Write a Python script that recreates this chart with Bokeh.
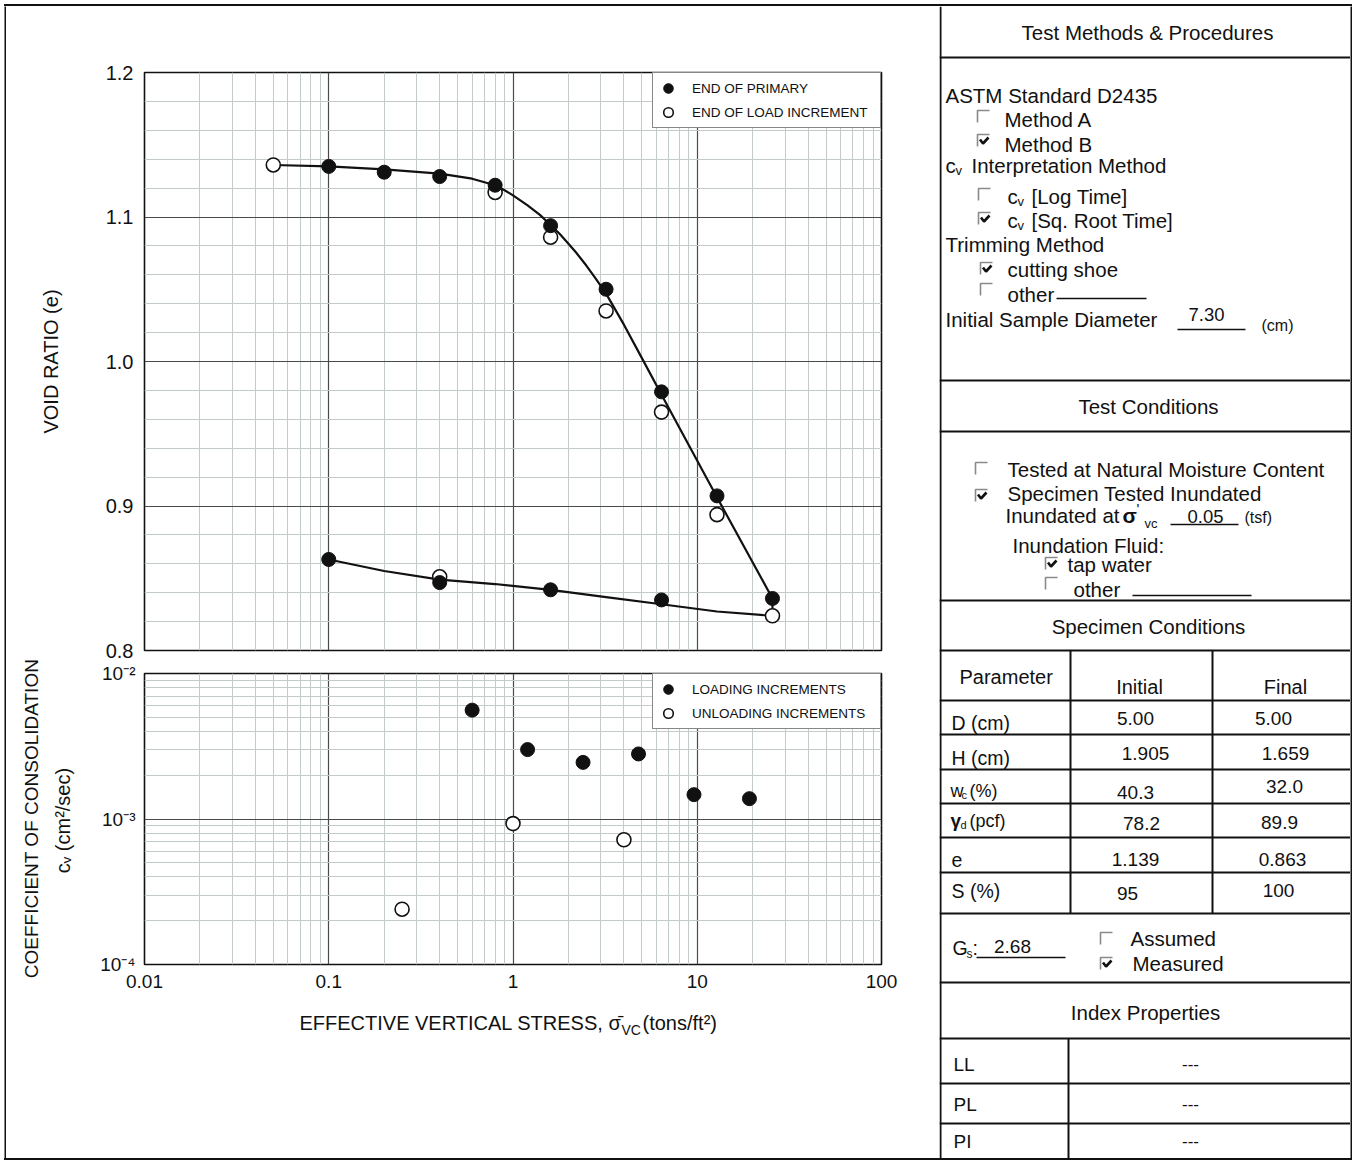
import math
from bokeh.plotting import figure
from bokeh.models import (Range1d, FixedTicker, CustomJSTickFormatter,
                          Legend, LegendItem, ColumnDataSource, Spacer)
from bokeh.layouts import row, column
from bokeh.embed import file_html
from bokeh.resources import INLINE
from bokeh.core.properties import value, field

FONT = "Liberation Sans"
INK = "#111111"
MINOR = "#c3caca"
MAJOR = "#4a4a4a"

# ---------------- data ----------------
# void ratio e versus effective vertical stress (tons/ft^2)
primary_load_stress = [0.1, 0.2, 0.4, 0.8, 1.6, 3.2, 6.4, 12.8, 25.6]
primary_load_e = [1.135, 1.131, 1.128, 1.122, 1.094, 1.050, 0.979, 0.907, 0.836]
primary_unload_stress = [6.4, 1.6, 0.4, 0.1]
primary_unload_e = [0.835, 0.842, 0.847, 0.863]
increment_stress = [0.05, 0.8, 1.6, 3.2, 6.4, 12.8, 25.6, 0.4]
increment_e = [1.136, 1.117, 1.086, 1.035, 0.965, 0.894, 0.824, 0.851]
# hand-drawn fitted curve (loading branch, then unloading branch)
curve_stress = [0.05, 0.1, 0.2, 0.4, 0.6, 0.8, 0.9, 1.0, 1.2, 1.4, 1.6, 1.8, 2.0, 2.2, 2.5,
                2.8, 3.2, 4.0, 5.0, 6.4, 12.8, 25.6,
                25.6, 12.8, 6.4, 3.2, 1.6, 0.8, 0.4, 0.2, 0.1]
curve_e = [1.136, 1.135, 1.133, 1.130, 1.1265, 1.122, 1.1185, 1.115, 1.108, 1.1015, 1.0945,
           1.088, 1.0815, 1.0754, 1.0664, 1.0577, 1.047, 1.0255, 1.0025, 0.977, 0.906, 0.836,
           0.824, 0.827, 0.832, 0.837, 0.842, 0.846, 0.849, 0.855, 0.863]

# coefficient of consolidation cv (cm^2/sec)
cv_load_stress = [0.6, 1.2, 2.4, 4.8, 9.6, 19.2]
cv_load = [5.6e-3, 3.0e-3, 2.45e-3, 2.8e-3, 1.47e-3, 1.38e-3]
cv_unload_stress = [0.25, 1.0, 4.0]
cv_unload = [2.4e-4, 9.3e-4, 7.2e-4]

x_ticks = [0.01, 0.1, 1, 10, 100]
e_ticks = [0.8, 0.9, 1.0, 1.1, 1.2]
cv_ticks = [1e-4, 1e-3, 1e-2]

# specimen table
param_rows = ["D (cm)", "H (cm)", "wc (%)", "γd (pcf)", "e", "S (%)"]
initial_vals = ["5.00", "1.905", "40.3", "78.2", "1.139", "95"]
final_vals = ["5.00", "1.659", "32.0", "89.9", "0.863", "100"]
index_rows = ["LL", "PL", "PI"]
index_vals = ["---", "---", "---"]

# ---------------- tickers / formatters ----------------
x_minor = [k * 10.0 ** d for d in range(-2, 2) for k in range(2, 10)]
cv_minor = [k * 10.0 ** d for d in range(-4, -2) for k in range(2, 10)]
e_minor = [round(0.8 + 0.02 * i, 2) for i in range(21) if i % 5]
x_fmt = CustomJSTickFormatter(code="return String(tick);")
e_fmt = CustomJSTickFormatter(code="return tick.toFixed(1);")
cv_fmt = CustomJSTickFormatter(code="""
const e = Math.round(Math.log10(tick));
const sup = {"-4": "\u207b\u2074", "-3": "\u207b\u00b3", "-2": "\u207b\u00b2"};
return "10" + sup[String(e)];
""")


def style_plot(p):
    p.background_fill_color = "white"
    p.border_fill_color = "white"
    p.outline_line_color = INK
    p.outline_line_width = 1.6
    for ax in p.axis:
        ax.axis_line_color = None
        ax.major_tick_line_color = None
        ax.minor_tick_line_color = None
        ax.major_tick_out = 0
        ax.major_tick_in = 0
        ax.minor_tick_out = 0
        ax.minor_tick_in = 0
        ax.major_label_text_font = FONT
        ax.major_label_text_color = INK
    for g in p.grid:
        g.grid_line_color = MAJOR
        g.grid_line_width = 1.2
        g.minor_grid_line_color = MINOR
        g.minor_grid_line_width = 1


def blank(w, h, xr, yr, fill="white", **kw):
    f = figure(width=w, height=h, x_range=Range1d(*xr), y_range=Range1d(*yr),
               output_backend="svg", toolbar_location=None,
               x_axis_location=None, y_axis_location=None, min_border=0, **kw)
    f.grid.visible = False
    f.background_fill_color = fill
    f.border_fill_color = fill
    f.outline_line_color = None
    return f


def make_legend(items):
    return Legend(items=items, location="top_right", margin=0, padding=3, spacing=0,
                  glyph_width=24, glyph_height=24, label_standoff=12, label_width=185,
                  label_height=20, label_text_font=FONT, label_text_font_size="13.5px",
                  label_text_color=INK, border_line_color=INK, border_line_width=1.5,
                  background_fill_alpha=1)


# page geometry (pixels): outer frame bars 4..6, plots column starts at x=90
B = 2
X0, Y0 = 6, 6
XP, XDIV, XR, YB = 90, 939, 1350, 1158
FRAME_L, FRAME_R = 144, 881

# ---------------- top: void ratio ----------------
top = figure(width=XDIV - XP, height=662 - Y0, x_axis_type="log",
             x_range=Range1d(0.01, 100), y_range=Range1d(0.8, 1.2),
             output_backend="svg", toolbar_location=None,
             min_border_left=FRAME_L - XP, min_border_right=XDIV - FRAME_R,
             min_border_top=72 - Y0, min_border_bottom=662 - 650)
xt_top = FixedTicker(ticks=x_ticks, minor_ticks=x_minor)
top.xaxis.ticker = xt_top
top.xgrid.ticker = xt_top
yt_top = FixedTicker(ticks=e_ticks, minor_ticks=e_minor)
top.yaxis.ticker = yt_top
top.ygrid.ticker = yt_top
top.yaxis.formatter = e_fmt
style_plot(top)
top.xaxis.visible = False
top.yaxis.major_label_text_font_size = "20px"
top.yaxis.major_label_standoff = 11

top.line(curve_stress, curve_e, line_color=INK, line_width=2.2)
r_open = top.scatter(increment_stress, increment_e, marker="circle", size=14,
                     fill_color="white", line_color=INK, line_width=1.6)
r_fill = top.scatter(primary_load_stress + primary_unload_stress,
                     primary_load_e + primary_unload_e, marker="circle", size=14,
                     fill_color=INK, line_color=INK)
top.add_layout(make_legend([LegendItem(label="END OF PRIMARY", renderers=[r_fill]),
                            LegendItem(label="END OF LOAD INCREMENT", renderers=[r_open])]))

# ---------------- bottom: coefficient of consolidation ----------------
bot = figure(width=XDIV - XP, height=1000 - 662, x_axis_type="log", y_axis_type="log",
             x_range=Range1d(0.01, 100), y_range=Range1d(1e-4, 1e-2),
             output_backend="svg", toolbar_location=None,
             min_border_left=FRAME_L - XP, min_border_right=XDIV - FRAME_R,
             min_border_top=673 - 662, min_border_bottom=1000 - 964)
xt_bot = FixedTicker(ticks=x_ticks, minor_ticks=x_minor)
bot.xaxis.ticker = xt_bot
bot.xgrid.ticker = xt_bot
bot.xaxis.formatter = x_fmt
yt_bot = FixedTicker(ticks=cv_ticks, minor_ticks=cv_minor)
bot.yaxis.ticker = yt_bot
bot.ygrid.ticker = yt_bot
bot.yaxis.formatter = cv_fmt
style_plot(bot)
bot.xaxis.major_label_text_font_size = "19px"
bot.xaxis.major_label_standoff = 10
bot.yaxis.major_label_text_font_size = "19px"
bot.yaxis.major_label_standoff = 9

r_cvl = bot.scatter(cv_load_stress, cv_load, marker="circle", size=14,
                    fill_color=INK, line_color=INK)
r_cvu = bot.scatter(cv_unload_stress, cv_unload, marker="circle", size=14,
                    fill_color="white", line_color=INK, line_width=1.6)
bot.add_layout(make_legend([LegendItem(label="LOADING INCREMENTS", renderers=[r_cvl]),
                            LegendItem(label="UNLOADING INCREMENTS", renderers=[r_cvu])]))

# ---------------- axis titles (separate strips, page-pixel coordinates) ----------------
strip = blank(XP - X0, YB - Y0, (X0, XP), (YB, Y0))
strip_src = ColumnDataSource(dict(
    x=[50, 31, 62], y=[361, 818, 820],
    text=["VOID RATIO (e)", "COEFFICIENT OF CONSOLIDATION", "c\u1d65 (cm\u00b2/sec)"],
    fs=["20px", "19px", "20px"]))
strip.text(x="x", y="y", text="text", source=strip_src, angle=math.pi / 2,
           text_align="center", text_baseline="middle", text_font=value(FONT),
           text_font_size=field("fs"), text_color=INK)

# caption frame aligned with the plot frames above it (page x 144..881)
caption = blank(XDIV - XP, YB - 1000, (FRAME_L, FRAME_R), (YB, 1000))
caption.min_border_left = FRAME_L - XP
caption.min_border_right = XDIV - FRAME_R
cap_src = ColumnDataSource(dict(
    x=[621, 621, 642], y=[1022, 1029, 1022],
    text=["EFFECTIVE VERTICAL STRESS, \u03c3\u0304", "VC", "(tons/ft\u00b2)"],
    fs=["20px", "14px", "20px"],
    al=["right", "left", "left"]))
caption.text(x="x", y="y", text="text", source=cap_src, text_align=field("al"),
             text_baseline="middle", text_font=value(FONT), text_font_size=field("fs"),
             text_color=INK)

# ---------------- right panel: test information ----------------
panel = blank(XR - XDIV, YB - Y0, (XDIV, XR), (YB, Y0))

T = dict(x=[], y=[], text=[], size=[], align=[], style=[])


def put(x, y, s, size=20.5, align="left", style="normal"):
    T["x"].append(x)
    T["y"].append(y)
    T["text"].append(s)
    T["size"].append(f"{size}px")
    T["align"].append(align)
    T["style"].append(style)


# section headers
put(1147, 32, "Test Methods & Procedures", align="center")
put(1148, 406, "Test Conditions", align="center")
put(1148, 626, "Specimen Conditions", align="center")
put(1145, 1012, "Index Properties", align="center")

# test methods
put(945, 95, "ASTM Standard D2435")
put(1004, 119, "Method A")
put(1004, 144, "Method B")
put(945, 165, "c")
put(955, 170, "v", 13)
put(971, 165, "Interpretation Method")
put(1007, 196, "c")
put(1017, 201, "v", 13)
put(1031, 196, "[Log Time]")
put(1007, 220, "c")
put(1017, 225, "v", 13)
put(1031, 220, "[Sq. Root Time]")
put(945, 244, "Trimming Method")
put(1007, 269, "cutting shoe")
put(1007, 294, "other")
put(945, 319, "Initial Sample Diameter")
put(1206, 314, "7.30", 18.5, align="center")
put(1261, 325, "(cm)", 16)

# test conditions
put(1007, 469, "Tested at Natural Moisture Content")
put(1007, 493, "Specimen Tested Inundated")
put(1005, 515, "Inundated at")
put(1122, 515, "\u03c3", 21, style="bold")
put(1136, 508, "'", 15)
put(1144, 523, "vc", 13)
put(1205, 516, "0.05", 18.5, align="center")
put(1244, 517, "(tsf)", 16)
put(1012, 545, "Inundation Fluid:")
put(1067, 564, "tap water")
put(1073, 589, "other")

# specimen table
put(959, 676, "Parameter", 20)
put(1139, 686, "Initial", 20, align="center")
put(1285, 686, "Final", 20, align="center")
row_y = [722, 757, 790, 820, 859, 890]
init_pos = [(1135, 718), (1145, 753), (1135, 792), (1141, 823), (1135, 859), (1127, 893)]
final_pos = [(1273, 718), (1285, 753), (1284, 786), (1279, 822), (1282, 859), (1278, 890)]
for i, name in enumerate(param_rows):
    y = row_y[i]
    if name.startswith("wc"):
        put(950, y, "w", 18)
        put(961, y + 4, "c", 11)
        put(969, y, "(%)", 18)
    elif name.startswith("γd"):
        put(950, y, "\u03b3", 19, style="bold")
        put(960, y + 4, "d", 11)
        put(969, y, "(pcf)", 18)
    else:
        put(951, y, name, 19.5)
    put(init_pos[i][0], init_pos[i][1], initial_vals[i], 19, align="center")
    put(final_pos[i][0], final_pos[i][1], final_vals[i], 19, align="center")

# specific gravity
put(952, 947, "G", 19.5)
put(966, 953, "s", 12)
put(972, 947, ":", 19.5)
put(1012, 946, "2.68", 19, align="center")
put(1130, 938, "Assumed")
put(1132, 963, "Measured")

# index properties
for name, v, y in zip(index_rows, index_vals, [1064, 1104, 1141]):
    put(953, y, name, 19)
    put(1190, y - 1, v, 17, align="center")

panel.text(x="x", y="y", text="text", source=ColumnDataSource(T),
           text_font=value(FONT), text_font_size=field("size"), text_align=field("align"),
           text_font_style=field("style"), text_baseline="middle", text_color=INK)

# ruling lines
h_lines = [57, 380, 431, 600, 650, 700, 734, 769, 803, 837, 872, 913, 982, 1038, 1083, 1123]
panel.segment(x0=[XDIV] * len(h_lines), x1=[XR] * len(h_lines), y0=h_lines, y1=h_lines,
              line_color=INK, line_width=2)
panel.segment(x0=[940, 1070, 1212, 1068], x1=[940, 1070, 1212, 1068],
              y0=[Y0, 650, 650, 1038], y1=[YB, 913, 913, YB], line_color=INK, line_width=2)
# fill-in underlines
ux0 = [1056, 1177, 1170, 1132, 976]
ux1 = [1146, 1245, 1238, 1251, 1065]
uy = [298, 329, 524, 595, 957]
panel.segment(x0=ux0, x1=ux1, y0=uy, y1=uy, line_color=INK, line_width=1.3)

# check boxes (top-left corner, checked?)
boxes = [(977, 110, False), (977, 134, True), (978, 188, False), (978, 212, True),
         (980, 262, True), (980, 283, False), (975, 462, False), (975, 489, True),
         (1045, 557, True), (1045, 577, False), (1100, 932, False), (1100, 957, True)]
bx, by, cx, cy = [], [], [], []
for x0, y0, chk in boxes:
    bx.append([x0, x0, x0 + 12])
    by.append([y0 + 12, y0, y0])
    if chk:
        cx.append([x0 + 2.5, x0 + 5.5, x0 + 11])
        cy.append([y0 + 5, y0 + 9, y0 + 3])
panel.multi_line(bx, by, line_color="#8a8a8a", line_width=1.6)
panel.multi_line(cx, cy, line_color=INK, line_width=2.6)

# ---------------- outer frame bars + layout ----------------
W_IN = XR - X0
H_IN = YB - Y0


def vbar(h):
    return blank(B, h, (0, 1), (0, 1), fill=INK)


def hbar(w):
    return Spacer(width=w, height=B, styles={"background-color": INK})


middle = row(vbar(H_IN), strip, column(top, bot, caption), panel, vbar(H_IN))
framed = column(hbar(W_IN + 2 * B), middle, hbar(W_IN + 2 * B))
layout = column(Spacer(height=Y0 - B, width=10), row(Spacer(width=X0 - B, height=10), framed))

open("out.html", "w").write(file_html(layout, INLINE))
